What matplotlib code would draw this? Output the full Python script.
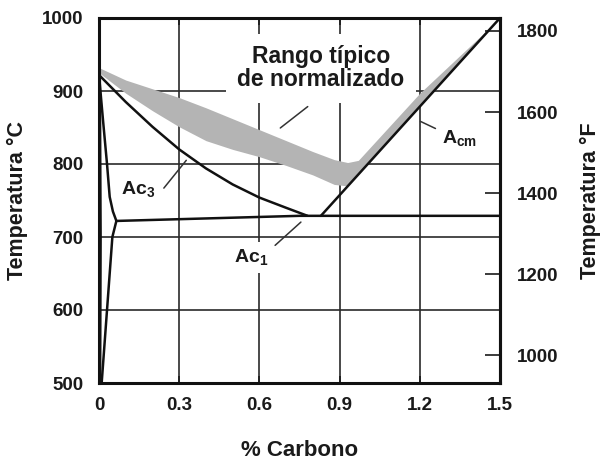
import matplotlib
matplotlib.use("Agg")
import matplotlib.pyplot as plt

# ---------------- data ----------------
c_ticks = [0, 0.3, 0.6, 0.9, 1.2, 1.5]
c_ticklabels = ["0", "0.3", "0.6", "0.9", "1.2", "1.5"]
t_ticks = [500, 600, 700, 800, 900, 1000]
f_ticks = [1000, 1200, 1400, 1600, 1800]
grid_c = [0.3, 0.6, 0.9, 1.2]
grid_t = [600, 700, 800, 900]

# Ac3 line (gamma / alpha+gamma boundary)
ac3_c = [0, 0.1, 0.2, 0.3, 0.4, 0.5, 0.6, 0.7, 0.78]
ac3_t = [922, 885, 851, 820, 794, 772, 754, 740, 729]
# A3 near pure iron (alpha / alpha+gamma)
alpha_c = [0, 0.015, 0.03, 0.04, 0.052, 0.065]
alpha_t = [922, 860, 800, 755, 735, 722]
# ferrite solvus
solvus_c = [0.065, 0.05, 0.03, 0.01]
solvus_t = [722, 700, 600, 500]
# line along pure iron
iron_c = [0.003, 0.006, 0.004]
iron_t = [922, 700, 500]
# A1 (eutectoid) line
a1_c = [0.065, 0.75, 1.5]
a1_t = [722, 729, 729]
# Acm line
acm_c = [0.83, 1.5]
acm_t = [729, 1000]
# typical normalising range band
band_c = [0, 0.1, 0.2, 0.3, 0.4, 0.5, 0.6, 0.7, 0.8, 0.88, 0.93, 0.97, 1.2, 1.5]
band_hi = [932, 915, 903, 891, 877, 862, 847, 832, 817, 806, 802, 805, 897, 1000]
band_lo = [925, 897, 873, 851, 832, 820, 810, 798, 785, 772, 770, 786, 879, 1000]

# ---------------- style ----------------
plt.rcParams["font.family"] = ["Liberation Sans", "DejaVu Sans"]
plt.rcParams["font.weight"] = "bold"
plt.rcParams["mathtext.fontset"] = "custom"
plt.rcParams["mathtext.rm"] = "Liberation Sans:bold"
plt.rcParams["mathtext.it"] = "Liberation Sans:bold"
plt.rcParams["mathtext.bf"] = "Liberation Sans:bold"

TXT = "#1a1a1a"
fig = plt.figure(figsize=(6.01, 4.62), dpi=100)
ax = fig.add_axes([99 / 601, 1 - 383 / 462, 401 / 601, 365 / 462])
ax.set_xlim(0, 1.5)
ax.set_ylim(500, 1000)

for g in grid_c:
    ax.axvline(g, color="#2a2a2a", lw=1.2, zorder=1)
for g in grid_t:
    ax.axhline(g, color="#2a2a2a", lw=1.2, zorder=1)

ax.fill_between(band_c, band_lo, band_hi, color="#b4b4b4", lw=0, zorder=5.5)

lk = dict(color="#111111", lw=1.8, zorder=6, solid_capstyle="round")
ax.plot(ac3_c, ac3_t, **lk)
ax.plot(alpha_c, alpha_t, **lk)
ax.plot(solvus_c, solvus_t, **lk)
ax.plot(iron_c, iron_t, **lk)
ax.plot(a1_c, a1_t, **lk)
ax.plot(acm_c, acm_t, **lk)

for s in ax.spines.values():
    s.set_linewidth(2.2)
    s.set_color("#111111")
    s.set_zorder(7)

ax.set_xticks(c_ticks)
ax.set_xticklabels(c_ticklabels)
ax.set_yticks(t_ticks)
ax.tick_params(axis="x", direction="in", length=5, width=1.2, pad=10,
               labelsize=13.5, colors=TXT, top=True)
ax.tick_params(axis="y", direction="in", length=0, pad=11, labelsize=13.5,
               colors=TXT)

sec = ax.secondary_yaxis("right", functions=(lambda c: c * 9 / 5 + 32,
                                             lambda f: (f - 32) * 5 / 9))
sec.set_yticks(f_ticks)
sec.tick_params(direction="in", length=11, width=1.2, pad=12,
                labelsize=13.5, colors=TXT)
sec.spines["right"].set_linewidth(2.2)

fig.text(590 / 601, 1 - 201 / 462, "Temperatura °F", rotation=90,
         ha="center", va="center", fontsize=15.5, fontweight="bold", color=TXT)

ax.set_ylabel("Temperatura °C", fontsize=15.5, fontweight="bold", color=TXT)
ax.yaxis.set_label_coords((28 - 99) / 401, 0.5)
ax.set_xlabel("% Carbono", fontsize=16, fontweight="bold", color=TXT)
ax.xaxis.set_label_coords(0.5, (383 - 440) / 365)

# annotations
ax.text(0.83, 931, "Rango típico\nde normalizado", ha="center", va="center",
        fontsize=16.5, fontweight="bold", color=TXT, linespacing=1.0,
        zorder=5, bbox=dict(boxstyle="square,pad=0.5", fc="white", ec="none"))
lead = dict(arrowstyle="-", color="#333333", lw=1.1)
ax.annotate("", xy=(0.67, 847), xytext=(0.789, 881), arrowprops=lead, zorder=6)

ax.text(0.146, 766, r"Ac$_\mathregular{3}$", ha="center", va="center",
        fontsize=14, fontweight="bold", color=TXT, zorder=5)
ax.annotate("", xy=(0.333, 808), xytext=(0.236, 764), arrowprops=lead, zorder=6)

ax.text(0.569, 672, r"Ac$_\mathregular{1}$", ha="center", va="center",
        fontsize=14, fontweight="bold", color=TXT, zorder=5,
        bbox=dict(boxstyle="square,pad=0.3", fc="white", ec="none"))
ax.annotate("", xy=(0.763, 723), xytext=(0.651, 686), arrowprops=lead, zorder=6)

ax.text(1.35, 835, r"A$_\mathregular{cm}$", ha="center", va="center",
        fontsize=14, fontweight="bold", color=TXT, zorder=5)
ax.annotate("", xy=(1.193, 860), xytext=(1.268, 847), arrowprops=lead, zorder=6)

fig.savefig("out.png", dpi=100)
